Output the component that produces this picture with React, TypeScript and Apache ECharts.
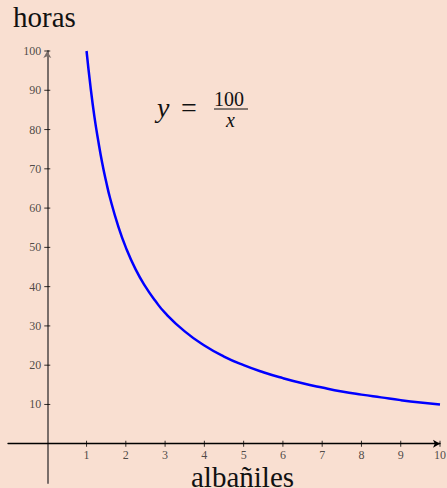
import React, { useEffect, useRef } from "react";
import * as echarts from "echarts";

const xValues = [1, 1.1, 1.2, 1.3, 1.4, 1.5, 1.6, 1.8, 2, 2.25, 2.5, 2.75, 3, 3.5, 4, 4.5, 5, 5.5, 6, 6.5, 7, 7.5, 8, 8.5, 9, 9.5, 10];
const yValues = [100, 91, 83.3, 77, 71.4, 66.7, 62.5, 55.6, 50, 44.4, 40, 36.4, 33.3, 28.6, 25, 22.2, 20, 18.2, 16.7, 15.4, 14.3, 13.3, 12.5, 11.8, 11.1, 10.5, 10];
const xTicks = [1, 2, 3, 4, 5, 6, 7, 8, 9, 10];
const yTicks = [10, 20, 30, 40, 50, 60, 70, 80, 90, 100];
const xTitle = "albañiles";
const yTitle = "horas";

const SERIF = "Liberation Serif";

const txt = (text: string, left: number, top: number, size: number, italic = false, lineHeight?: number) => ({
  type: "text",
  left,
  top,
  style: {
    text,
    fontFamily: SERIF,
    fontSize: size,
    fontStyle: italic ? "italic" : "normal",
    fill: "#111",
    ...(lineHeight ? { lineHeight } : {}),
  },
});

export default function App() {
  const ref = useRef<HTMLDivElement>(null);
  useEffect(() => {
    if (!ref.current) return;
    const chart = echarts.init(ref.current, null, { renderer: "svg" });
    const tickLabel = {
      show: true,
      color: "#222",
      fontFamily: SERIF,
      fontSize: 12,
    };
    chart.setOption({
      animation: false,
      backgroundColor: "#f9dfd1",
      grid: { left: 8, right: 7, top: 51, bottom: 5, containLabel: false, outerBoundsMode: "none" },
      xAxis: {
        type: "value",
        min: -1,
        max: 10,
        interval: 1,
        splitLine: { show: false },
        axisLine: {
          onZero: true,
          lineStyle: { color: "#000", width: 1.3 },
          symbol: ["none", "arrow"],
          symbolSize: [6, 7],
        },
        axisTick: { show: false },
        axisLabel: { show: false },
      },
      yAxis: {
        type: "value",
        min: -10,
        max: 100,
        interval: 10,
        splitLine: { show: false },
        axisLine: {
          onZero: true,
          lineStyle: { color: "#7a6e6a", width: 2 },
          symbol: ["none", "arrow"],
          symbolSize: [6, 7],
        },
        axisTick: { show: false },
        axisLabel: { show: false },
      },
      series: [
        {
          type: "scatter",
          data: xTicks.map((x) => [x, 0]),
          symbol: "rect",
          symbolSize: [1, 6],
          itemStyle: { color: "#000" },
          silent: true,
          label: { ...tickLabel, position: "bottom", distance: 2, formatter: (p: any) => String(p.value[0]) },
        },
        {
          type: "scatter",
          data: yTicks.map((y) => [0, y]),
          symbol: "rect",
          symbolSize: [6, 1],
          itemStyle: { color: "#000" },
          silent: true,
          label: { ...tickLabel, position: "left", distance: 3, formatter: (p: any) => String(p.value[1]) },
        },
        {
          type: "line",
          data: xValues.map((x, i) => [x, yValues[i]]),
          smooth: true,
          showSymbol: false,
          lineStyle: { color: "#0000ff", width: 2.5 },
        },
      ],
      graphic: [
        txt(yTitle, 13, 2, 29),
        txt(xTitle, 191, 462, 29),
        txt("y", 157, 93, 28, true),
        txt("=", 181, 93, 28),
        txt("100", 214, 89, 20, false, 19),
        { type: "line", shape: { x1: 214, y1: 109, x2: 248, y2: 109 }, style: { stroke: "#111", lineWidth: 1 } },
        txt("x", 226, 110, 20, true, 17),
      ],
    });
    return () => chart.dispose();
  }, []);
  return <div ref={ref} style={{ width: 447, height: 488, position: "absolute", left: 0, top: 0 }} />;
}
